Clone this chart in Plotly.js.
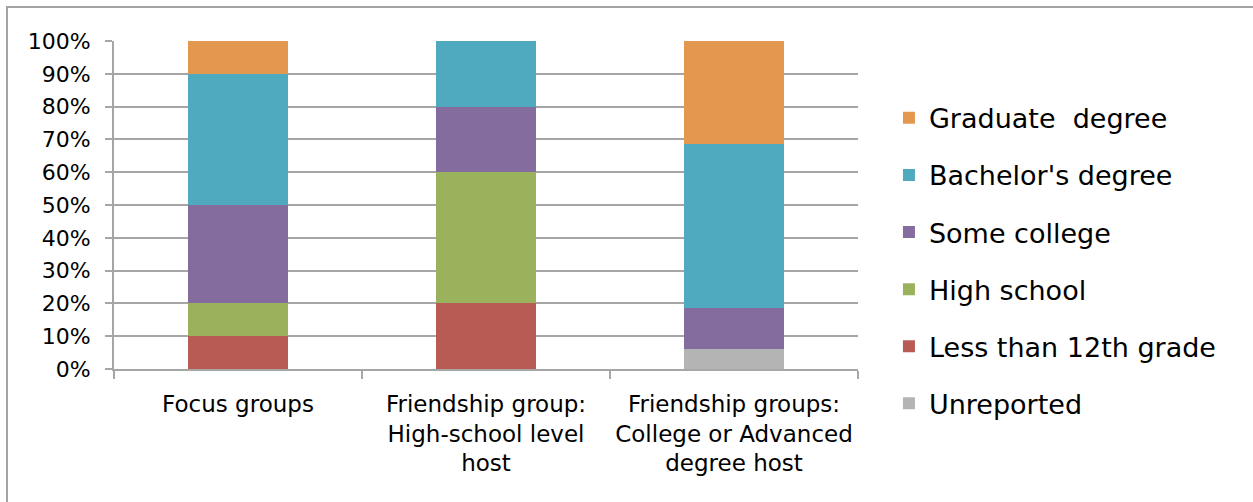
<!DOCTYPE html>
<html>
<head>
<meta charset="utf-8">
<script src="https://cdn.plot.ly/plotly-3.0.1.min.js"></script>
<style>
  html, body { margin: 0; padding: 0; background: #fff; }
  #chart { position: absolute; left: 0; top: 0; width: 1253px; height: 502px; }
  #frame { position: absolute; left: 6px; top: 6px; width: 1260px; height: 520px;
           border-top: 2px solid #a3a3a3; border-left: 2px solid #a3a3a3; pointer-events: none; }
</style>
</head>
<body>
<div id="chart"></div>
<div id="frame"></div>
<script>
// Data
const categories = [
  "Focus groups",
  "Friendship group:<br>High-school level<br>host",
  "Friendship groups:<br>College or Advanced<br>degree host"
];
const seriesNames = ["Unreported", "Less than 12th grade", "High school", "Some college", "Bachelor's degree", "Graduate  degree"];
const unreported   = [0.00, 0.00, 0.0625];
const lessThan12th = [0.10, 0.20, 0.00];
const highSchool   = [0.10, 0.40, 0.00];
const someCollege  = [0.30, 0.20, 0.125];
const bachelors    = [0.40, 0.20, 0.50];
const graduate     = [0.10, 0.00, 0.3125];
const seriesColors = ["#b4b4b4", "#b95b55", "#9bb25d", "#856c9f", "#4fa9bf", "#e4984f"];

const values = [unreported, lessThan12th, highSchool, someCollege, bachelors, graduate];

const traces = values.map((v, i) => ({
  type: "bar",
  name: seriesNames[i],
  x: categories,
  y: v,
  marker: { color: seriesColors[i], line: { width: 0 } },
  legendgroup: "g" + i,
  legendrank: 1000 - i,
  hoverinfo: "skip"
}));

const gray = "#a6a6a6";
const layout = {
  width: 1253,
  height: 502,
  barmode: "stack",
  bargap: 0.6,
  paper_bgcolor: "rgba(0,0,0,0)",
  plot_bgcolor: "#fff",
  margin: { l: 114, r: 395, t: 41, b: 133 },
  font: { family: "DejaVu Sans, sans-serif", color: "#000" },
  xaxis: {
    type: "category",
    showline: true, linecolor: gray, linewidth: 2,
    ticks: "outside", tickson: "boundaries", ticklen: 8, tickwidth: 2, tickcolor: gray,
    tickfont: { size: 23, family: "DejaVu Sans, sans-serif" },
    ticklabelstandoff: 13,
    showgrid: false, zeroline: false, fixedrange: true
  },
  yaxis: {
    range: [0, 1],
    dtick: 0.1,
    tickformat: ".0%",
    showline: true, linecolor: gray, linewidth: 2,
    ticks: "outside", ticklen: 7, tickwidth: 2, tickcolor: gray,
    showgrid: true, gridcolor: gray, gridwidth: 2,
    zeroline: false,
    tickfont: { size: 22, family: "DejaVu Sans, sans-serif" },
    ticklabelstandoff: 10,
    fixedrange: true
  },
  showlegend: true,
  legend: {
    x: 1.0416, xanchor: "left",
    y: 0.839, yanchor: "top",
    traceorder: "grouped",
    tracegroupgap: 19,
    font: { size: 27, family: "DejaVu Sans, sans-serif" },
    bgcolor: "rgba(0,0,0,0)"
  }
};

Plotly.newPlot("chart", traces, layout, { displayModeBar: false, staticPlot: true });
</script>
</body>
</html>
